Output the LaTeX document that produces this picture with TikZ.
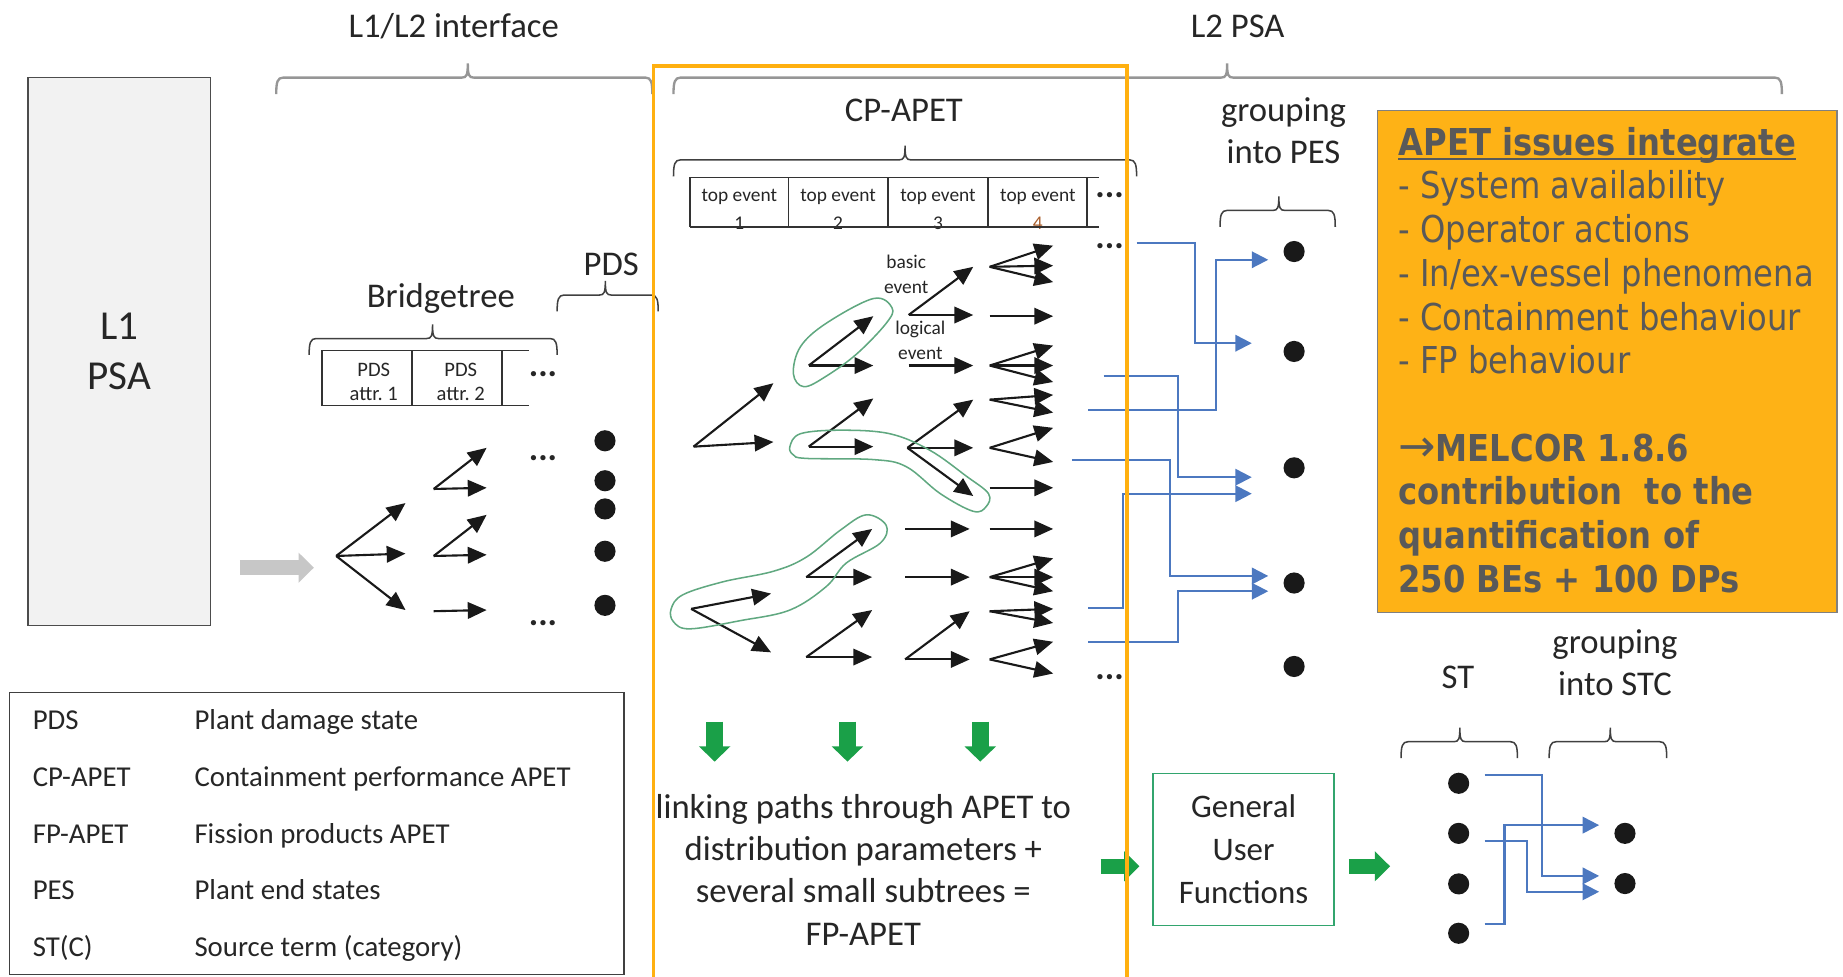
\documentclass[tikz,border=0pt]{standalone}
\usepackage{fontspec}
\setmainfont{Carlito}
\newfontfamily\boxfont[FakeStretch=0.87]{DejaVu Sans}
\newfontfamily\arrowfont{DejaVu Sans}
\usetikzlibrary{arrows.meta,calc}

\definecolor{orangeframe}{RGB}{255,176,16}
\definecolor{infofill}{RGB}{254,178,22}
\definecolor{infotext}{RGB}{89,89,89}
\definecolor{flowblue}{RGB}{76,120,192}
\definecolor{arrowgreen}{RGB}{26,160,72}
\definecolor{lassogreen}{RGB}{96,168,128}
\definecolor{gufgreen}{RGB}{50,165,110}
\definecolor{bracegrey}{RGB}{150,150,150}
\definecolor{darkline}{RGB}{64,64,64}
\definecolor{boxgrey}{RGB}{242,242,242}
\definecolor{labeltext}{RGB}{38,38,38}
\definecolor{fourcol}{RGB}{170,95,45}

% bracket: x1, x2, x of tick, y, style
\newcommand\bracketover[5]{%
  \draw[#5] (#1,#4+14) .. controls (#1,#4+4) and (#1+1,#4) .. (#1+6,#4)
    -- (#3-5,#4) .. controls (#3-1,#4) and (#3,#4-2) .. (#3,#4-12)
    .. controls (#3,#4-2) and (#3+1,#4) .. (#3+5,#4)
    -- (#2-6,#4) .. controls (#2-1,#4) and (#2,#4+4) .. (#2,#4+14);}
\newcommand\ultext[1]{\setbox0\hbox{#1}\rlap{\rule[-4.5pt]{\wd0}{2.4pt}}\box0}

\tikzset{
  br/.style={-{Triangle[length=16pt,width=14pt]}, line width=1.8pt, black!90},
  flow/.style={-{Triangle[length=14pt,width=14pt]}, line width=1.8pt, flowblue},
  dot/.style={circle, fill=black!90, inner sep=0pt, minimum size=18pt},
  blockarrow/.style={-{Triangle[length=13pt,width=25pt]}, line width=13pt, arrowgreen},
  biglabel/.style={anchor=base, font=\fontsize{29.5}{35}\selectfont},
  smalltext/.style={font=\fontsize{16.5}{20}\selectfont, align=center},
  legendtext/.style={anchor=base west, inner sep=0pt, font=\fontsize{24.5}{29}\selectfont},
  infoline/.style={anchor=base west, inner sep=0pt, text=infotext,
    font=\boxfont\fontsize{31.5}{37}\selectfont},
  dots/.style={font=\fontsize{30}{30}\selectfont\bfseries},
  lasso/.style={lassogreen, line width=1.3pt},
  tableline/.style={line width=1.3pt, black!80}
}

\begin{document}
\begin{tikzpicture}[x=1pt,y=-1pt, every node/.append style={text=labeltext}]
\useasboundingbox (0,0) rectangle (1568,831);

% top labels
\node[biglabel] (ifc) at (386,32) {L1/L2 interface};
\node[biglabel] (l2psa) at (1053,32) {L2 PSA};
\bracketover{235}{555}{398}{66}{bracegrey, line width=2pt}
\bracketover{573}{1516}{1044}{66}{bracegrey, line width=2pt}

% L1 PSA
\node[draw=black!70, fill=boxgrey, line width=1.3pt, minimum width=155pt,
  minimum height=466pt, align=center, font=\fontsize{35}{42}\selectfont] (l1psa) at (101.5,299) {L1\\PSA};

% bridgetree
\node[biglabel] (bridge) at (375,262) {Bridgetree};
\node[biglabel] (pds) at (520,234) {PDS};
\bracketover{263}{474}{368}{288}{darkline, line width=1.3pt}
\bracketover{474}{560}{515}{251}{darkline, line width=1.3pt}
\node[smalltext, font=\fontsize{17.5}{21}\selectfont] (attr1) at (318,325) {PDS\\attr.~1};
\node[smalltext, font=\fontsize{17.5}{21}\selectfont] (attr2) at (392,325) {PDS\\attr.~2};
\draw[tableline] (274,298) -- (450,298) (274,345) -- (450,345);
\foreach \x in {274,350.6,427}
  \draw[tableline] (\x,298) -- (\x,345);
\node[dots] (bdots1) at (462,318) {...};
\node[dots] (bdots2) at (462,390) {...};
\node[dots] (bdots3) at (462,530) {...};

\draw[-{Triangle[length=13pt,width=25pt]}, line width=13pt, black!22] (204,483) -- (267,483);
\foreach \xa/\ya/\xb/\yb in {286/473/345/428, 286/473/345/471, 286/473/345/519,
    369/416/414/381, 369/416/414/415, 369/473/414/438, 369/473/414/472, 369/520/414/519}
  \draw[br] (\xa,\ya) -- (\xb,\yb);
\foreach \y [count=\i] in {375,409,433,469,515}
  \node[dot] (pds\i) at (514.7,\y) {};

% CP-APET
\node[biglabel] (cpapet) at (769,103.5) {CP-APET};
\bracketover{573}{967}{770}{136}{darkline, line width=1.3pt}
\foreach \x/\n [count=\i] in {629/1,713/2,798/3}
  \node[smalltext, anchor=base] (te\i) at (\x,171.5) {top event};
\node[smalltext, anchor=base] (te4) at (883,171.5) {top event};
\foreach \x/\n in {629/1,713/2,798/3}
  \node[smalltext, anchor=base] (ten\n) at (\x,195) {\n};
\node[smalltext, anchor=base, text=fourcol] (ten4) at (883,195) {4};
\draw[tableline] (587,151) -- (935,151) (587,193) -- (935,193);
\foreach \x in {587,671,755.5,840.5,924.6}
  \draw[tableline] (\x,151) -- (\x,193);
\node[dots] (tdots) at (944,166) {...};
\node[dots] (cdots1) at (944,209) {...};
\node[dots] (cdots2) at (944,576) {...};

\node[smalltext, anchor=base] (basic) at (771,228.5) {basic};
\node[smalltext, anchor=base] (basicev) at (771,249.5) {event};
\node[smalltext, anchor=base] (logic) at (783,285) {logical};
\node[smalltext, anchor=base] (logicev) at (783,306) {event};

\foreach \xa/\ya/\xb/\yb in {590/380/658/326, 590/380/658/376, 588/518/656/505, 588/518/656/555,
    688/311/743/269, 688/311/743/311, 688/380/743/339, 688/380/743/380,
    686/491/742/450, 686/491/742/491, 686/559/742/519, 686/559/742/559,
    773/268/828/227, 773/268/828/268, 773/311/828/311,
    772/381/828/340, 772/381/828/381, 772/381/828/422,
    770/450/825/450, 770/491/825/491, 770/561/825/520, 770/561/825/561}
  \draw[br] (\xa,\ya) -- (\xb,\yb);
\foreach \ys/\tips in {227/{209,226,240}, 269/{269}, 311/{294,311,325}, 340/{336,351},
    381/{364,393}, 415/{415}, 450/{450}, 491/{475,491,503}, 520/{518,530}, 561/{546,573}}
  \foreach \t in \tips
    \draw[br] (842,\ys) -- (896,\t);

% lassos
\draw[lasso] plot[smooth cycle, tension=0.6] coordinates {(743,254) (759,262) (754,275) (729,301)
  (703,320) (684,329) (675,318) (681,295) (703,275)};
\draw[lasso] plot[smooth cycle, tension=0.6] coordinates {(672,380) (681,369) (715,366) (757,369)
  (791,383) (822,405) (841,420) (839,431) (828,435) (800,420) (771,397) (743,391) (686,390) (675,387)};
\draw[lasso] plot[smooth cycle, tension=0.6] coordinates {(571,518) (581,506) (615,495) (658,486)
  (686,474) (715,451) (737,438) (754,447) (749,462) (720,479) (703,499) (672,519) (630,528)
  (587,535) (573,529)};

% down arrows and FP-APET text
\foreach \x in {608,721,834}
  \draw[blockarrow, line width=14pt, -{Triangle[length=13pt,width=26pt]}] (\x,614) -- (\x,648);
\node[align=center, font=\fontsize{29.5}{36}\selectfont] (linking) at (734.5,740)
  {linking paths through APET to\\distribution parameters +\\several small subtrees =\\FP-APET};

% grouping into PES
\node[biglabel, align=center] (grppes) at (1092,103) {grouping};
\node[biglabel] (intopes) at (1092,139.3) {into PES};
\bracketover{1038}{1136}{1088}{179}{darkline, line width=1.3pt}
\foreach \y [count=\i] in {214,299,398,496,567}
  \node[dot] (pes\i) at (1101,\y) {};

\coordinate (s1) at (967,207);
\coordinate (s2) at (926,349);
\coordinate (s3) at (939,320);
\coordinate (s4) at (912,391);
\coordinate (s5) at (926,517.5);
\coordinate (s6) at (926,546);
\draw[flow] (s1) -| ($(pes2)+(-84,-7)$) -- ($(pes2)+(-36,-7)$);
\draw[flow] (s2) -| ($(pes1)+(-66.5,7)$) -- ($(pes1)+(-22,7)$);
\draw[flow] (s3) -| ($(pes3)+(-98.5,8)$) -- ($(pes3)+(-36,8)$);
\draw[flow] (s4) -| ($(pes4)+(-105.6,-6)$) -- ($(pes4)+(-22,-6)$);
\draw[flow] (s5) -| ($(pes3)+(-145.3,22)$) -- ($(pes3)+(-36,22)$);
\draw[flow] (s6) -| ($(pes4)+(-98.5,7)$) -- ($(pes4)+(-22,7)$);

% info box
\node[draw=black!50, fill=infofill, line width=1.5pt, minimum width=391pt, minimum height=427pt] (infobox) at (1367.5,307.5) {};
\node[infoline] (info1) at (1189.6,132) {\bfseries\ultext{APET issues integrate}};
\node[infoline] (info2) at (1189.6,169.2) {- System availability};
\node[infoline] (info3) at (1189.6,206.4) {- Operator actions};
\node[infoline] (info4) at (1189.6,243.6) {- In/ex-vessel phenomena};
\node[infoline] (info5) at (1189.6,280.8) {- Containment behaviour};
\node[infoline] (info6) at (1189.6,318) {- FP behaviour};
\node[infoline] (info7) at (1189.6,392.4) {{\arrowfont\fontsize{38}{37}\selectfont →}\bfseries MELCOR 1.8.6};
\node[infoline] (info8) at (1189.6,429.6) {\bfseries contribution\ \ to the};
\node[infoline] (info9) at (1189.6,466.8) {\bfseries quantification of};
\node[infoline] (info10) at (1189.6,504) {\bfseries 250 BEs + 100 DPs};

% general user functions and ST
\node[draw=gufgreen, line width=1.3pt, minimum width=154pt, minimum height=129pt, align=center,
  font=\fontsize{28}{36.5}\selectfont] (guf) at (1058,722.7) {General\\User\\Functions};
\draw[blockarrow] ($(guf.west)+(-44,14.3)$) -- ($(guf.west)+(-11,14.3)$);
\draw[blockarrow] ($(guf.east)+(12,14.3)$) -- ($(guf.east)+(47,14.3)$);

\node[biglabel] (st) at (1240.3,585.6) {ST};
\node[biglabel] (grpstc) at (1374,555.8) {grouping};
\node[biglabel] (intostc) at (1374,591.3) {into STC};
\bracketover{1192}{1291}{1242}{631}{darkline, line width=1.3pt}
\bracketover{1318}{1418}{1370}{631}{darkline, line width=1.3pt}
\foreach \y [count=\i] in {666.4,709,752,794}
  \node[dot] (st\i) at (1241,\y) {};
\foreach \y [count=\i] in {709,751.7}
  \node[dot] (stc\i) at (1382.5,\y) {};
\draw[flow] ($(st1)+(22,-7)$) -| ($(stc2)+(-70.5,-6.5)$) -- ($(stc2)+(-22,-6.5)$);
\draw[flow] ($(st2)+(22,6.5)$) -| ($(stc2)+(-83.5,7)$) -- ($(stc2)+(-22,7)$);
\draw[flow] ($(st4)+(22,-8)$) -| ($(stc1)+(-102.5,-7)$) -- ($(stc1)+(-22,-7)$);

% legend
\draw[darkline, line width=1.3pt] (8,589) rectangle (531,829);
\foreach \ab/\txt [count=\i] in {PDS/Plant damage state, CP-APET/Containment performance APET,
    FP-APET/Fission products APET, PES/Plant end states, ST(C)/Source term (category)}
{
  \pgfmathsetmacro\yb{621+(\i-1)*48.2}
  \node[legendtext] (legab\i) at (27.7,\yb) {\ab};
  \node[legendtext] (legtx\i) at (165.3,\yb) {\txt};
}

% CP-APET frame
\draw[orangeframe, line width=3.3pt] (556,832) -- (556,56) -- (959,56) -- (959,832);
\end{tikzpicture}
\end{document}
